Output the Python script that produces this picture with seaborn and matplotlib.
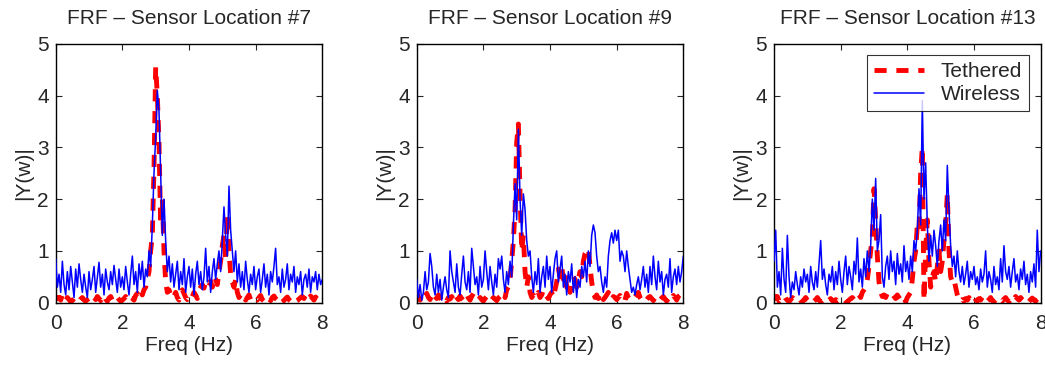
import numpy as np
import pandas as pd
import matplotlib
matplotlib.use('Agg')
import matplotlib.pyplot as plt
import seaborn as sns

sns.set_style("ticks")
plt.rcParams['font.family'] = ['Liberation Sans', 'DejaVu Sans']
plt.rcParams['font.size'] = 15

# frequency grid (Hz), 0.05 Hz spacing
freq = np.linspace(0, 8, 161)

titles = ['FRF \u2013 Sensor Location #7', 'FRF \u2013 Sensor Location #9', 'FRF \u2013 Sensor Location #13']

# == sensor #7
tethered_7 = [
    0.12,0.08,0.10,0.05,0.15,0.08,0.03,0.10,0.06,0.02,0.04,0.08,0.10,0.05,0.02,0.07,0.10,0.05,0.03,0.06,
    0.08,0.04,0.02,0.10,0.06,0.12,0.08,0.04,0.10,0.15,0.07,0.03,0.09,0.12,0.05,0.08,0.04,0.10,0.06,0.03,
    0.05,0.08,0.12,0.06,0.03,0.10,0.08,0.05,0.14,0.18,0.10,0.20,0.15,0.25,0.30,0.45,0.60,1.00,1.30,2.60,
    4.55,4.00,3.10,1.50,2.00,1.00,0.40,0.20,0.25,0.15,0.08,0.12,0.20,0.10,0.05,0.15,0.25,0.18,0.10,0.06,
    0.10,0.05,0.12,0.20,0.15,0.08,0.25,0.30,0.35,0.28,0.40,0.45,0.38,0.42,0.30,0.50,0.45,0.35,0.60,0.80,
    1.10,1.30,0.80,1.70,1.00,0.55,0.40,0.30,0.45,0.20,0.10,0.15,0.08,0.12,0.05,0.10,0.15,0.06,0.09,0.12,
    0.08,0.05,0.10,0.14,0.06,0.03,0.09,0.12,0.07,0.04,0.10,0.13,0.08,0.05,0.02,0.06,0.10,0.04,0.08,0.11,
    0.06,0.03,0.08,0.05,0.02,0.04,0.07,0.10,0.12,0.08,0.15,0.10,0.06,0.13,0.09,0.05,0.11,0.07,0.04,0.10,
    0.08]
wireless_7 = [
    0.85,0.30,0.55,0.20,0.80,0.35,0.15,0.60,0.25,0.70,0.40,0.10,0.65,0.30,0.75,0.45,0.20,0.55,0.30,0.10,
    0.60,0.25,0.45,0.70,0.20,0.50,0.78,0.30,0.55,0.15,0.65,0.40,0.25,0.60,0.35,0.72,0.45,0.20,0.65,0.30,
    0.50,0.25,0.70,0.40,0.15,0.55,0.90,0.35,0.60,0.20,0.75,0.45,0.80,0.30,0.65,0.50,1.00,0.70,1.50,2.50,
    3.20,4.10,3.70,2.50,1.30,2.00,1.20,0.60,0.90,0.40,0.75,0.30,0.55,0.80,0.25,0.60,0.35,0.85,0.20,0.50,
    0.70,0.30,0.65,0.15,0.55,0.80,0.35,0.60,0.25,0.50,1.05,0.40,0.70,0.20,0.60,0.85,0.45,0.75,1.00,0.60,
    1.20,1.85,1.30,0.90,2.25,1.40,1.00,0.60,1.00,0.40,0.75,0.30,0.60,0.25,0.80,0.45,0.20,0.55,0.35,0.70,
    0.25,0.50,0.65,0.20,0.45,0.75,0.30,0.55,0.15,0.60,0.40,0.70,1.05,0.35,0.50,0.20,0.65,0.30,0.45,0.75,
    0.25,0.55,0.40,0.70,0.20,0.50,0.35,0.60,0.15,0.45,0.55,0.30,0.65,0.20,0.50,0.40,0.60,0.25,0.55,0.35,
    0.45]

# == sensor #9
tethered_9 = [
    0.20,0.10,0.05,0.15,0.08,0.12,0.18,0.10,0.06,0.14,0.20,0.12,0.08,0.15,0.10,0.05,0.12,0.08,0.03,0.10,
    0.07,0.12,0.05,0.15,0.10,0.06,0.13,0.08,0.04,0.11,0.16,0.09,0.05,0.12,0.18,0.14,0.08,0.05,0.10,0.06,
    0.03,0.08,0.12,0.06,0.02,0.05,0.10,0.07,0.04,0.09,0.12,0.15,0.20,0.10,0.25,0.30,0.45,0.80,1.20,1.80,
    3.10,3.45,2.10,1.00,1.30,0.60,0.30,0.50,0.20,0.10,0.15,0.08,0.12,0.20,0.10,0.15,0.25,0.18,0.12,0.08,
    0.15,0.20,0.10,0.25,0.40,0.65,0.50,0.70,0.45,0.60,0.30,0.40,0.20,0.35,0.50,0.45,0.30,0.45,0.60,0.50,
    0.80,0.95,1.00,1.05,0.70,0.40,0.20,0.10,0.15,0.08,0.20,0.12,0.06,0.10,0.15,0.20,0.08,0.05,0.12,0.10,
    0.06,0.10,0.14,0.08,0.12,0.05,0.18,0.10,0.06,0.03,0.08,0.12,0.15,0.20,0.10,0.05,0.08,0.03,0.06,0.10,
    0.12,0.08,0.04,0.10,0.06,0.02,0.05,0.09,0.12,0.07,0.03,0.08,0.11,0.06,0.14,0.10,0.05,0.12,0.15,0.20,
    0.22]
wireless_9 = [
    0.45,0.10,0.35,0.05,0.20,0.60,0.25,0.40,0.95,0.70,0.30,0.15,0.55,0.20,0.45,0.05,0.30,0.50,0.25,0.10,
    1.00,0.60,0.40,0.20,0.75,0.30,0.15,0.55,0.90,0.40,0.25,0.60,0.20,1.05,0.70,0.35,0.50,0.15,0.70,0.30,
    0.45,1.00,0.60,0.25,0.70,0.40,0.15,0.55,0.30,0.85,0.65,0.90,0.45,0.20,0.60,0.35,0.80,0.50,1.50,2.30,
    1.60,3.35,2.00,1.30,2.10,1.80,1.20,0.90,1.00,0.50,0.20,0.60,0.35,0.85,0.20,0.50,0.70,0.30,0.90,0.45,
    0.70,0.20,0.55,0.85,1.00,0.40,0.65,0.90,0.30,0.55,0.15,0.60,0.40,0.75,0.20,0.50,0.10,0.45,0.30,0.70,
    0.50,0.80,0.40,1.00,0.70,1.30,1.50,1.35,0.90,0.60,0.70,0.40,0.20,0.50,0.30,0.90,1.20,1.35,1.15,1.40,
    1.20,1.40,0.80,1.00,0.90,0.60,1.00,0.70,0.45,0.20,0.30,0.15,0.35,0.50,0.25,0.45,0.70,0.30,0.55,0.20,
    0.70,0.35,0.90,0.50,0.25,0.80,0.40,0.60,0.15,0.45,0.55,0.30,0.85,0.20,0.50,0.65,0.35,0.70,0.40,0.60,
    0.90]

# == sensor #13
tethered_13 = [
    0.15,0.08,0.12,0.03,0.06,0.10,0.14,0.08,0.05,0.02,0.06,0.10,0.07,0.03,0.05,0.08,0.04,0.01,0.06,0.10,
    0.05,0.02,0.04,0.08,0.03,0.06,0.10,0.05,0.02,0.04,0.07,0.03,0.01,0.05,0.08,0.04,0.02,0.06,0.03,0.05,
    0.02,0.04,0.07,0.03,0.01,0.05,0.08,0.10,0.06,0.12,0.09,0.15,0.10,0.20,0.25,0.30,0.45,0.70,1.00,1.30,
    2.20,1.60,0.90,0.40,0.20,0.12,0.15,0.10,0.18,0.20,0.14,0.16,0.12,0.08,0.15,0.10,0.05,0.12,0.08,0.02,
    0.10,0.15,0.20,0.45,0.80,1.00,1.50,1.40,2.50,3.00,0.05,1.00,1.60,0.80,0.30,0.50,0.60,0.40,0.70,1.00,
    0.60,0.80,1.20,1.50,2.10,1.00,0.50,0.40,0.45,0.30,0.15,0.05,0.02,0.06,0.03,0.08,0.05,0.10,0.04,0.07,
    0.12,0.06,0.03,0.08,0.05,0.10,0.14,0.07,0.03,0.06,0.10,0.04,0.02,0.05,0.08,0.11,0.06,0.03,0.07,0.10,
    0.05,0.02,0.06,0.09,0.04,0.12,0.08,0.05,0.10,0.06,0.03,0.08,0.04,0.02,0.06,0.09,0.05,0.03,0.07,0.10,
    0.06]
wireless_13 = [
    0.80,1.40,0.30,0.60,0.15,1.05,0.45,0.20,1.30,0.50,0.10,0.40,0.25,0.60,0.35,0.15,0.50,0.30,0.65,0.40,
    0.55,0.20,0.70,0.40,0.25,0.60,0.30,0.75,1.20,0.45,0.65,0.35,0.15,0.55,0.40,0.70,0.25,0.60,0.35,0.80,
    0.45,0.20,0.60,0.90,0.35,0.70,0.50,0.25,0.80,0.55,1.25,0.40,0.65,0.30,0.85,0.50,1.00,0.60,1.10,2.00,
    1.40,2.40,1.00,1.20,1.70,0.50,0.30,0.70,0.90,0.45,1.00,0.60,0.80,0.35,0.95,0.55,0.75,0.40,1.10,0.60,
    0.80,0.45,0.90,0.60,1.20,1.00,1.40,2.20,1.50,3.90,2.00,2.70,1.50,0.80,1.30,0.90,1.40,1.10,0.70,1.20,
    1.50,1.00,1.60,1.20,2.65,1.80,1.10,0.70,0.90,0.50,1.00,0.60,0.40,0.70,0.35,0.55,0.80,0.30,0.60,0.45,
    0.70,0.35,0.50,0.25,0.65,0.40,0.55,1.00,0.30,0.60,0.45,0.20,0.70,0.35,0.50,0.25,0.85,0.40,1.10,0.60,
    0.45,0.70,0.30,0.60,0.85,0.40,0.55,0.25,0.65,0.45,0.80,0.35,0.55,0.20,0.60,0.40,0.75,0.30,1.40,0.60,
    1.00]

tethered = [tethered_7, tethered_9, tethered_13]
wireless = [wireless_7, wireless_9, wireless_13]

fig = plt.figure(figsize=(10.45, 3.67), dpi=100)
lefts = [0.0533, 0.3988, 0.7407]

for i in range(3):
    ax = fig.add_axes([lefts[i], 0.1752, 0.2551, 0.7057])
    df = pd.DataFrame({'freq': freq, 'Tethered': tethered[i], 'Wireless': wireless[i]})
    sns.lineplot(data=df, x='freq', y='Tethered', ax=ax, color='red', lw=3.5,
                 label='Tethered')
    sns.lineplot(data=df, x='freq', y='Wireless', ax=ax, color='blue', lw=1.1,
                 label='Wireless')
    ax.lines[0].set_dashes([2.5, 2.0])
    ax.lines[0].set_zorder(2)
    ax.lines[1].set_zorder(3)
    ax.set_xlim(0, 8)
    ax.set_ylim(0, 5)
    ax.set_xticks([0, 2, 4, 6, 8])
    ax.set_yticks([0, 1, 2, 3, 4, 5])
    ax.tick_params(direction='in', top=True, right=True, length=4, width=0.8, labelsize=15)
    ax.tick_params(axis='x', pad=8)
    ax.tick_params(axis='y', pad=5)
    for sp in ax.spines.values():
        sp.set_visible(True)
        sp.set_linewidth(1.0)
        sp.set_color('black')
    ax.set_title(titles[i], fontsize=15, pad=14)
    ax.set_xlabel('Freq (Hz)', fontsize=15, labelpad=2)
    ax.set_ylabel('|Y(w)|', fontsize=15, labelpad=3)
    if i == 2:
        leg = ax.legend(loc='upper right', bbox_to_anchor=(0.958, 0.958), borderaxespad=0,
                        fontsize=15, frameon=True, fancybox=False, handlelength=2.4,
                        borderpad=0.35, labelspacing=0.2, handletextpad=0.8)
        leg.get_frame().set_edgecolor('black')
        leg.get_frame().set_linewidth(0.8)
    else:
        ax.get_legend().remove()

plt.savefig('out.png', dpi=100)
plt.close()
